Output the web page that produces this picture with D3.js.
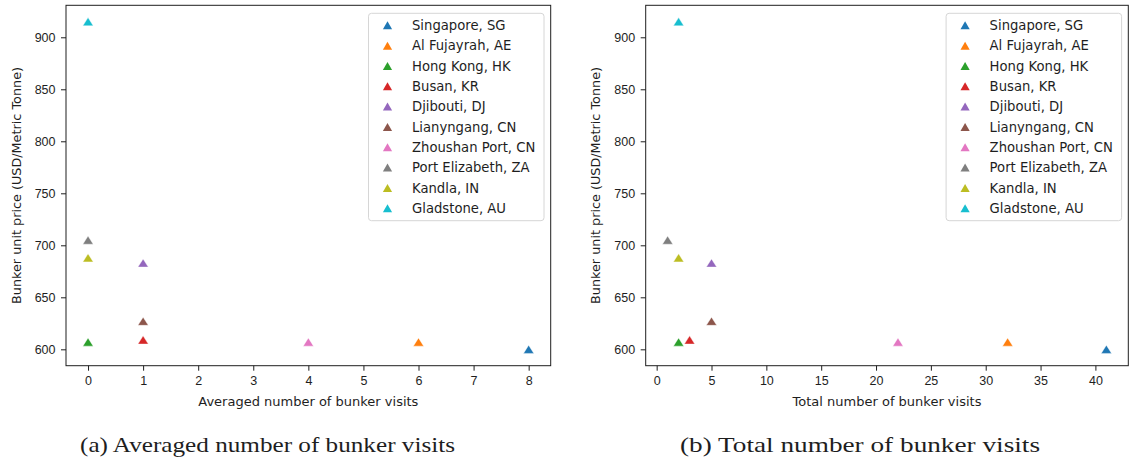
<!DOCTYPE html>
<html>
<head>
<meta charset="utf-8">
<script src="https://cdn.jsdelivr.net/npm/d3@7"></script>
<style>
  body { margin: 0; background: #fff; }
  svg { display: block; font-family: "DejaVu Sans", sans-serif; }
  .tick text { fill: #1e1e1e; font-size: 12.5px; }
  .tick line { stroke: #1e1e1e; }
  .caption { font-family: "Liberation Serif", "DejaVu Serif", serif; fill: #1e1e1e; }
</style>
</head>
<body>
<svg id="chart" width="1131" height="464"></svg>
<script>
// ports in plotting order
const ports = ["Singapore, SG", "Al Fujayrah, AE", "Hong Kong, HK", "Busan, KR", "Djibouti, DJ",
               "Lianyngang, CN", "Zhoushan Port, CN", "Port Elizabeth, ZA", "Kandla, IN", "Gladstone, AU"];
const unitPrice  = [600, 607, 607, 609, 683, 627, 607, 705, 688, 915];
const avgVisits  = [8, 6, 0, 1, 1, 1, 4, 0, 0, 0];
const totalVisits = [41, 32, 2, 3, 5, 5, 22, 1, 2, 2];
const priceTicks = [600, 650, 700, 750, 800, 850, 900];
const avgTicks = [0, 1, 2, 3, 4, 5, 6, 7, 8];
const totalTicks = [0, 5, 10, 15, 20, 25, 30, 35, 40];

const svg = d3.select("#chart");
const color = d3.scaleOrdinal(ports, d3.schemeCategory10);

// matplotlib-ish 5% padding
function padded(vals) {
  const [lo, hi] = d3.extent(vals), m = (hi - lo) * 0.05;
  return [lo - m, hi + m];
}

// upward triangle centred on its bbox (figure was stretched a bit sideways)
function tri(w, h) {
  return "M0," + (-h) + "L" + w + "," + h + "L" + (-w) + "," + h + "Z";
}

function panel(opt) {
  const top = 5.3, bottom = 365.7;
  const x = d3.scaleLinear().domain(padded(opt.xs)).range([opt.left, opt.right]);
  const y = d3.scaleLinear().domain(padded(unitPrice)).range([bottom, top]);
  const g = svg.append("g");

  const ax = g.append("g")
      .attr("transform", "translate(0," + bottom + ")")
      .call(d3.axisBottom(x).tickValues(opt.ticks).tickSize(5).tickPadding(5).tickSizeOuter(0));
  const ay = g.append("g")
      .attr("transform", "translate(" + opt.left + ",0)")
      .call(d3.axisLeft(y).tickValues(priceTicks).tickSize(5).tickPadding(5.5).tickSizeOuter(0));
  ax.select(".domain").remove();
  ay.select(".domain").remove();
  g.selectAll(".tick text").attr("font-family", null).attr("font-size", null);

  g.append("rect")
      .attr("x", opt.left).attr("y", top)
      .attr("width", opt.right - opt.left).attr("height", bottom - top)
      .attr("fill", "none").attr("stroke", "#1e1e1e").attr("stroke-width", 1);

  g.append("text")
      .attr("x", (opt.left + opt.right) / 2).attr("y", 406)
      .attr("text-anchor", "middle").attr("font-size", 13).attr("fill", "#1e1e1e")
      .text(opt.xlabel);
  g.append("text")
      .attr("transform", "translate(" + opt.ylabelX + "," + (top + bottom) / 2 + ") rotate(-90)")
      .attr("text-anchor", "middle").attr("dy", "0.35em")
      .attr("font-size", 12.8).attr("fill", "#1e1e1e")
      .text("Bunker unit price (USD/Metric Tonne)");

  g.selectAll(".pt")
    .data(ports)
    .join("path")
      .attr("class", "pt")
      .attr("transform", (d, i) => "translate(" + x(opt.xs[i]) + "," + y(unitPrice[i]) + ")")
      .attr("d", tri(5.2, 4.1))
      .attr("fill", d => color(d))
      .attr("stroke", "#fff").attr("stroke-width", 0.6).attr("stroke-opacity", 0.7);

  // legend
  const lw = 175.5, lh = 207.4;
  const lx = opt.right - 6.7 - lw, ly = top + 8;
  const leg = g.append("g").attr("transform", "translate(" + lx + "," + ly + ")");
  leg.append("rect")
      .attr("width", lw).attr("height", lh).attr("rx", 3)
      .attr("fill", "#fff").attr("fill-opacity", 0.8)
      .attr("stroke", "#d6d6d6").attr("stroke-width", 1);
  const row = leg.selectAll(".row")
    .data(ports)
    .join("g")
      .attr("transform", (d, i) => "translate(0," + (12 + i * 20.33) + ")");
  row.append("path")
      .attr("transform", "translate(19,0)")
      .attr("d", tri(4.6, 4))
      .attr("fill", d => color(d));
  row.append("text")
      .attr("x", 43.5).attr("dy", "0.36em")
      .attr("font-size", 13.2).attr("fill", "#1e1e1e")
      .text(d => d);
}

panel({ left: 66, right: 550.7, xs: avgVisits, ticks: avgTicks, ylabelX: 17,
        xlabel: "Averaged number of bunker visits" });
panel({ left: 645.7, right: 1128.3, xs: totalVisits, ticks: totalTicks, ylabelX: 595.7,
        xlabel: "Total number of bunker visits" });

// sub-captions
svg.append("text").attr("class", "caption")
    .attr("x", 80).attr("y", 452).attr("font-size", 22)
    .attr("textLength", 375).attr("lengthAdjust", "spacingAndGlyphs")
    .text("(a) Averaged number of bunker visits");
svg.append("text").attr("class", "caption")
    .attr("x", 680).attr("y", 452).attr("font-size", 22)
    .attr("textLength", 360).attr("lengthAdjust", "spacingAndGlyphs")
    .text("(b) Total number of bunker visits");
</script>
</body>
</html>
